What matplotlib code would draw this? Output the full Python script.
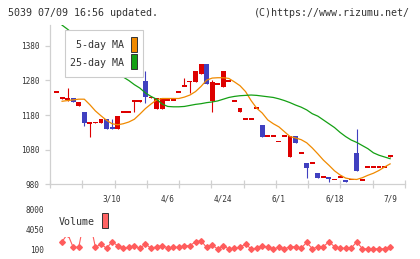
import numpy as np
import matplotlib
matplotlib.use("Agg")
import matplotlib.pyplot as plt
from matplotlib.patches import Rectangle

# candle data (index 0 = first candle)
opens = [1247, 1227, 1226, 1230, 1207, 1189, 1157, 1158, 1158, 1169,
         1145, 1139, 1188, 1188, 1219, 1219, 1279, 1230, 1198, 1198,
         1223, 1223, 1246, 1264, 1276, 1277, 1298, 1328, 1222, 1269,
         1262, 1278, 1221, 1190, 1168, 1168, 1200, 1151, 1119, 1119,
         1104, 1119, 1060, 1119, 1070, 1042, 1042, 1012, 1001, 1001,
         994, 1001, 990, 994, 1070, 992, 1030, 1030, 1030, 1030, 1059]
closes = [1247, 1233, 1228, 1219, 1219, 1158, 1159, 1160, 1169, 1139,
          1139, 1178, 1189, 1189, 1221, 1221, 1233, 1232, 1229, 1229,
          1223, 1223, 1246, 1266, 1278, 1307, 1328, 1269, 1277, 1269,
          1307, 1278, 1221, 1200, 1168, 1168, 1200, 1118, 1119, 1119,
          1104, 1119, 1119, 1100, 1070, 1028, 1042, 999, 1001, 994,
          994, 1001, 988, 994, 1019, 992, 1030, 1030, 1030, 1030, 1065]
highs = [1247, 1233, 1259, 1230, 1219, 1189, 1159, 1160, 1169, 1169,
         1169, 1178, 1189, 1189, 1221, 1221, 1307, 1232, 1229, 1229,
         1223, 1223, 1246, 1286, 1278, 1307, 1328, 1328, 1281, 1269,
         1307, 1278, 1221, 1200, 1168, 1168, 1200, 1151, 1119, 1119,
         1104, 1119, 1119, 1119, 1070, 1042, 1042, 1012, 1001, 1001,
         994, 1001, 990, 994, 1140, 992, 1030, 1030, 1030, 1030, 1065]
lows = [1247, 1227, 1222, 1219, 1207, 1148, 1118, 1158, 1158, 1139,
        1139, 1139, 1188, 1188, 1190, 1219, 1216, 1230, 1198, 1198,
        1223, 1223, 1246, 1264, 1244, 1277, 1298, 1269, 1190, 1269,
        1262, 1278, 1221, 1190, 1168, 1168, 1200, 1118, 1119, 1119,
        1104, 1119, 1060, 1100, 1070, 999, 1042, 999, 1001, 988,
        994, 1001, 988, 994, 1019, 992, 1030, 1030, 1030, 1030, 1059]

# moving averages and volume start at candle 1
ma5 = [1220, 1222, 1224, 1226, 1226, 1210, 1192, 1178, 1165, 1155,
       1152, 1155, 1160, 1168, 1183, 1199, 1212, 1224, 1228, 1228,
       1228, 1228, 1232, 1238, 1248, 1263, 1281, 1287, 1288, 1288,
       1286, 1276, 1265, 1248, 1222, 1200, 1186, 1166, 1155, 1146,
       1132, 1118, 1114, 1109, 1100, 1085, 1068, 1050, 1035, 1019,
       1007, 998, 995, 994, 999, 1006, 1012, 1020, 1030, 1039]
ma25 = [1440, 1428, 1415, 1400, 1385, 1370, 1355, 1338, 1322, 1308,
        1298, 1290, 1280, 1268, 1258, 1244, 1234, 1226, 1212, 1205,
        1204, 1204, 1205, 1208, 1211, 1213, 1216, 1218, 1221, 1226,
        1231, 1234, 1236, 1237, 1238, 1237, 1235, 1233, 1231, 1227,
        1222, 1216, 1209, 1203, 1195, 1184, 1177, 1166, 1155, 1144,
        1130, 1118, 1108, 1101, 1092, 1083, 1071, 1064, 1059, 1054]
volume = [1540, 3100, 435, 435, 6000, 5600, 435, 1090, 240, 1540,
          750, 240, 435, 750, 240, 1090, 240, 550, 750, 360,
          435, 435, 750, 750, 1540, 1740, 400, 890, 100, 750,
          100, 240, 435, 1090, 100, 240, 750, 435, 140, 435,
          140, 550, 550, 240, 1420, 140, 550, 550, 1540, 550,
          240, 240, 240, 1540, 140, 140, 140, 140, 140, 435]

date_labels = ["3/10", "4/6", "4/24", "6/1", "6/18", "7/9"]
date_pos = [10, 20, 30, 40, 50, 60]
price_ticks = [980, 1080, 1180, 1280, 1380]
vol_ticks = [100, 4050, 8000]

RED = "#dd0000"
BLUE = "#4040c0"
ORANGE = "#f08a00"
GREEN = "#14a014"
VOLC = "#ff5c5c"
GRID = "#d0d0d0"
TXT = "#333333"
MONO = "DejaVu Sans Mono"

W, H = 420, 259


def fx(x):
    return x / W


def fy(y):
    return 1 - y / H


fig = plt.figure(figsize=(4.2, 2.59), dpi=100)
fig.patch.set_facecolor("white")

xlo, xhi = -1.17, 62.68

# price panel
ax = fig.add_axes([fx(50), fy(184.3), fx(405) - fx(50), fy(25) - fy(184.3)])
ax.set_xlim(xlo, xhi)
ax.set_ylim(980, 1440.4)

o = np.array(opens, float)
c = np.array(closes, float)
idx = np.arange(len(o))
cols = np.where(c >= o, RED, BLUE)
lo = np.minimum(o, c)
hi = np.maximum(o, c)
hgt = np.maximum(hi - lo, 5)
bot = np.where(hi - lo < 5, (hi + lo) / 2 - 2.5, lo)

ax.vlines(idx, lows, highs, colors=cols, lw=0.8, zorder=2)
ax.bar(idx, hgt, 0.88, bot, color=cols, linewidth=0, zorder=3)

ma_idx = np.arange(1, len(ma5) + 1)
ax.plot(ma_idx, ma5, color=ORANGE, lw=0.9, zorder=4)
ax.plot(ma_idx, ma25, color=GREEN, lw=0.9, zorder=4)

for s in ["top", "right"]:
    ax.spines[s].set_visible(False)
for s in ["left", "bottom"]:
    ax.spines[s].set_color(GRID)
    ax.spines[s].set_linewidth(0.9)

ax.set_xticks(np.linspace(xlo, xhi, 12))
ax.tick_params(axis="x", which="major", direction="inout", length=5.5,
               color=GRID, width=0.9, labelbottom=False)
ax.set_xticks(date_pos, minor=True)
ax.set_xticklabels(date_labels, minor=True)
ax.tick_params(axis="x", which="minor", length=0, pad=7.5,
               labelsize=5.6, labelcolor=TXT)
ax.set_yticks(price_ticks)
ax.tick_params(axis="y", direction="out", length=3.6, color=GRID, width=0.9,
               pad=4, labelsize=5.6, labelcolor=TXT)
for t in ax.get_xticklabels(minor=True) + ax.get_yticklabels():
    t.set_family(MONO)

# volume panel
axv = fig.add_axes([fx(50), fy(252), fx(405) - fx(50), fy(205) - fy(252)])
axv.set_xlim(xlo, xhi)
axv.set_ylim(-492, 8790)
for s in axv.spines.values():
    s.set_visible(False)
axv.set_xticks([])
axv.set_yticks(vol_ticks)
axv.tick_params(axis="y", length=0, pad=4.2, labelsize=5.6, labelcolor=TXT)
for t in axv.get_yticklabels():
    t.set_family(MONO)
axv.patch.set_alpha(0)
vline, = axv.plot(np.arange(1, len(volume) + 1), volume, color=VOLC, lw=0.8,
                  marker="D", ms=2.9, mec=VOLC, mfc=VOLC)
clip = Rectangle((0, 0), 1, (252 - 237.3) / 47, transform=axv.transAxes)
vline.set_clip_path(clip)

# header
fig.text(fx(8), fy(13.3), "5039 07/09 16:56 updated.", fontsize=7.2,
         family=MONO, color=TXT, ha="left", va="center")
fig.text(fx(409.5), fy(13.3), "(C)https://www.rizumu.net/", fontsize=7.2,
         family=MONO, color=TXT, ha="right", va="center")

# price legend
fig.add_artist(Rectangle((fx(65), fy(77.3)), fx(143.3) - fx(65),
                         fy(30) - fy(77.3), transform=fig.transFigure,
                         fc="white", ec="#cccccc", lw=0.8, zorder=5))
fig.add_artist(Rectangle((fx(131.3), fy(52)), fx(5.5), fy(36.7) - fy(52),
                         transform=fig.transFigure, fc=ORANGE, ec=TXT,
                         lw=0.7, zorder=6))
fig.add_artist(Rectangle((fx(131.3), fy(69.3)), fx(5.5), fy(54.3) - fy(69.3),
                         transform=fig.transFigure, fc=GREEN, ec=TXT,
                         lw=0.7, zorder=6))
fig.text(fx(123.8), fy(45.5), "5-day MA", fontsize=7.2, family=MONO,
         color=TXT, ha="right", va="center", zorder=6)
fig.text(fx(123.8), fy(63.3), "25-day MA", fontsize=7.2, family=MONO,
         color=TXT, ha="right", va="center", zorder=6)

# volume legend
fig.text(fx(59), fy(222), "Volume", fontsize=7.2, family=MONO, color=TXT,
         ha="left", va="center")
fig.add_artist(Rectangle((fx(101.7), fy(228)), fx(6), fy(213) - fy(228),
                         transform=fig.transFigure, fc="#ff6464", ec=TXT,
                         lw=0.7, zorder=6))

fig.savefig("out.png", dpi=100)
